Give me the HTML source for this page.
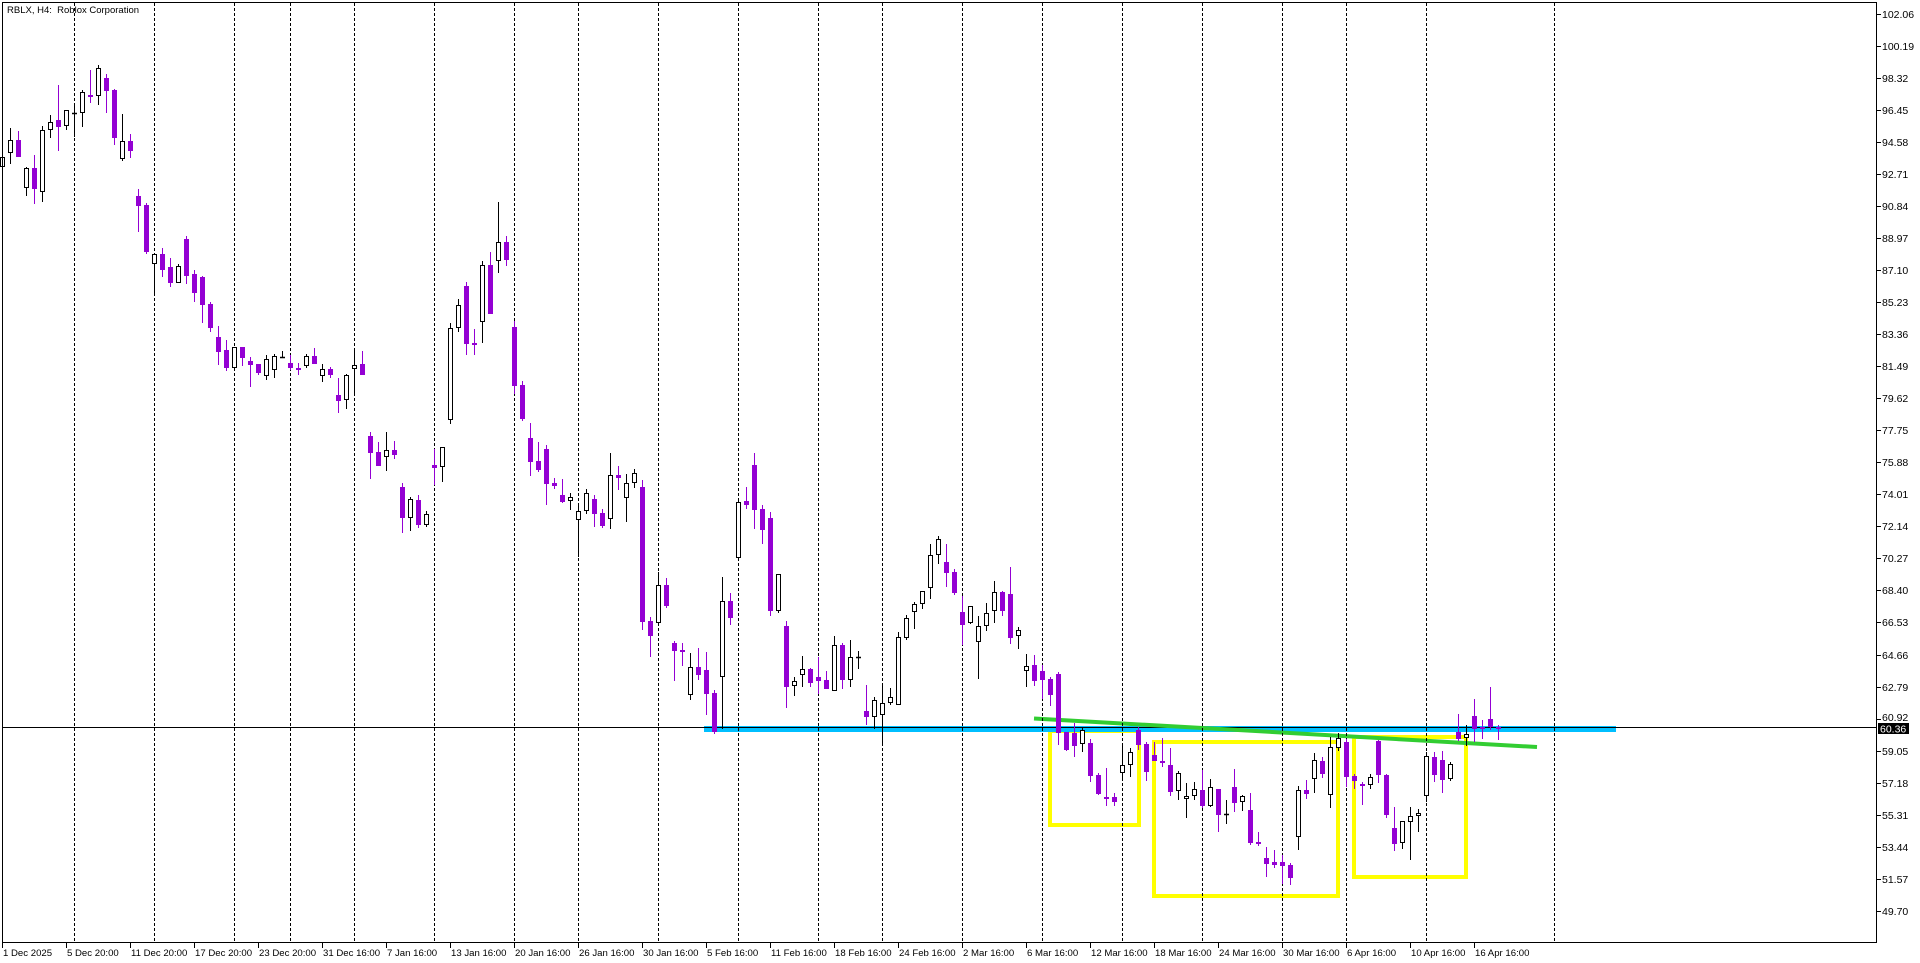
<!DOCTYPE html>
<html><head><meta charset="utf-8"><style>
html,body{margin:0;padding:0;background:#fff;overflow:hidden}
svg{display:block}
text{font-family:"Liberation Sans",Arial,sans-serif;fill:#000}
</style></head><body>
<svg width="1920" height="963" viewBox="0 0 1920 963" xmlns="http://www.w3.org/2000/svg">
<rect width="1920" height="963" fill="#fff"/>
<!-- yellow boxes -->
<g fill="none" stroke="#FFFF00" stroke-width="4">
<rect x="1050" y="731" width="89" height="94"/>
<rect x="1154" y="742" width="184" height="154"/>
<rect x="1354" y="737" width="112" height="140"/>
</g>
<!-- blue horizontal -->
<rect x="704" y="726" width="912" height="6" fill="#00BFFF"/>
<!-- bid line -->
<path d="M2.5 727.5H1877" stroke="#000" stroke-width="1"/>
<!-- green trendline -->
<path d="M1034 718.5L1537 747" stroke="#32CD32" stroke-width="4" fill="none"/>
<!-- period separators -->
<path d="M74.5 3V943M154.5 3V943M234.5 3V943M290.5 3V943M354.5 3V943M434.5 3V943M514.5 3V943M578.5 3V943M658.5 3V943M738.5 3V943M818.5 3V943M882.5 3V943M962.5 3V943M1042.5 3V943M1122.5 3V943M1202.5 3V943M1282.5 3V943M1346.5 3V943M1426.5 3V943M1554.5 3V943" stroke="#000" stroke-width="1" stroke-dasharray="3 2" fill="none"/>
<!-- black wicks -->
<path fill="none" stroke="#000" stroke-width="1" d="M2.5 155V168M10.5 128V164M26.5 167V196M42.5 126V202M50.5 115V138M66.5 110V130M74.5 103V137M82.5 90V127M98.5 65V105M122.5 114V161M154.5 254V293M178.5 264V283M234.5 347V368M266.5 355V380M274.5 354V378M282.5 351V358M306.5 354V368M322.5 364V382M346.5 374V409M354.5 350V395M386.5 432V471M410.5 497V531M426.5 511V527M442.5 447V482M450.5 323V424M458.5 299V332M482.5 261V343M498.5 202V273M570.5 493V510M578.5 505V557M586.5 489V514M610.5 453V529M626.5 474V522M634.5 469V488M658.5 572V624M690.5 653V700M722.5 577V729M738.5 500V558M778.5 574V613M794.5 677V696M802.5 656V687M834.5 636V691M850.5 640V687M858.5 651V669M874.5 697V729M882.5 686V743M890.5 688V705M898.5 632V705M906.5 615V640M914.5 602V629M922.5 591V609M930.5 544V599M938.5 536V564M970.5 606V624M978.5 616V679M986.5 603V631M994.5 581V623M1018.5 627V649M1026.5 654V687M1082.5 728V752M1122.5 744V778M1130.5 748V777M1178.5 771V800M1186.5 783V818M1194.5 782V800M1210.5 779V807M1226.5 800V824M1242.5 795V811M1298.5 786V850M1314.5 753V793M1330.5 737V808M1338.5 733V751M1370.5 774V789M1402.5 821V849M1410.5 807V860M1418.5 809V832M1426.5 752V802M1450.5 762V781M1466.5 725V746"/>
<!-- purple wicks -->
<path fill="none" stroke="#9400D3" stroke-width="1" d="M18.5 131V157M34.5 155V204M58.5 85V151M90.5 70V103M106.5 74V113M114.5 89V145M130.5 134V158M138.5 189V232M146.5 203V254M162.5 248V277M170.5 258V287M186.5 236V284M194.5 270V302M202.5 276V323M210.5 302V332M218.5 326V365M226.5 340V371M242.5 347V366M250.5 357V387M258.5 364V375M290.5 355V370M298.5 363V375M314.5 348V364M330.5 367V378M338.5 378V413M362.5 351V375M370.5 432V479M378.5 442V466M394.5 441V459M402.5 483V533M418.5 495V528M434.5 449V485M466.5 282V355M474.5 329V355M490.5 252V314M506.5 236V266M514.5 321V394M522.5 381V421M530.5 423V476M538.5 442V472M546.5 445V505M554.5 478V489M562.5 479V503M594.5 495V527M602.5 509V528M618.5 466V490M642.5 480V630M650.5 617V657M666.5 578V608M674.5 641V681M682.5 643V666M698.5 648V680M706.5 652V715M714.5 690V734M730.5 593V625M746.5 487V509M754.5 453V529M762.5 505V544M770.5 512V616M786.5 621V708M810.5 668V687M818.5 657V694M826.5 671V689M842.5 643V689M866.5 685V725M946.5 544V587M954.5 569V595M962.5 596V645M1002.5 591V616M1010.5 567V644M1034.5 655V686M1042.5 665V699M1050.5 677V706M1058.5 672V745M1066.5 732V751M1074.5 723V757M1090.5 739V782M1098.5 773V795M1106.5 768V806M1114.5 793V806M1138.5 727V750M1146.5 742V781M1154.5 742V761M1162.5 738V767M1170.5 748V796M1202.5 770V808M1218.5 789V832M1234.5 769V812M1250.5 793V845M1258.5 832V846M1266.5 847V877M1274.5 850V868M1282.5 855V884M1290.5 863V885M1306.5 780V799M1322.5 757V778M1346.5 739V787M1354.5 774V789M1362.5 782V805M1378.5 740V783M1386.5 774V818M1394.5 807V851M1434.5 752V782M1442.5 751V793M1458.5 714V741M1474.5 699V742M1482.5 720V739M1490.5 687V730M1498.5 725V740"/>
<!-- purple bodies -->
<path fill="#9400D3" d="M16 140h5V157h-5zM32 168h5V189h-5zM56 120h5V127h-5zM88 95h5V97h-5zM104 78h5V91h-5zM112 90h5V138h-5zM128 141h5V151h-5zM136 196h5V206h-5zM144 205h5V252h-5zM160 254h5V270h-5zM168 267h5V283h-5zM184 239h5V276h-5zM192 274h5V293h-5zM200 277h5V305h-5zM208 304h5V328h-5zM216 337h5V352h-5zM224 350h5V368h-5zM240 347h5V358h-5zM248 361h5V365h-5zM256 364h5V373h-5zM288 363h5V368h-5zM296 368h5V370h-5zM312 356h5V364h-5zM328 369h5V375h-5zM336 395h5V401h-5zM360 364h5V375h-5zM368 436h5V453h-5zM376 452h5V466h-5zM392 450h5V455h-5zM400 487h5V518h-5zM416 500h5V525h-5zM432 465h5V468h-5zM464 286h5V344h-5zM472 343h5V345h-5zM488 265h5V314h-5zM504 242h5V260h-5zM512 327h5V386h-5zM520 385h5V419h-5zM528 438h5V462h-5zM536 461h5V470h-5zM544 449h5V484h-5zM552 483h5V486h-5zM560 495h5V502h-5zM592 499h5V514h-5zM600 513h5V526h-5zM616 475h5V478h-5zM640 487h5V622h-5zM648 621h5V636h-5zM664 585h5V606h-5zM672 643h5V651h-5zM680 650h5V652h-5zM696 667h5V675h-5zM704 670h5V694h-5zM712 693h5V732h-5zM728 601h5V618h-5zM744 501h5V505h-5zM752 465h5V510h-5zM760 509h5V530h-5zM768 518h5V611h-5zM784 626h5V687h-5zM808 669h5V683h-5zM816 677h5V681h-5zM824 680h5V689h-5zM840 645h5V680h-5zM864 711h5V717h-5zM944 562h5V573h-5zM952 572h5V593h-5zM960 612h5V625h-5zM1000 592h5V611h-5zM1008 594h5V638h-5zM1032 665h5V681h-5zM1040 671h5V680h-5zM1048 679h5V695h-5zM1056 674h5V733h-5zM1064 732h5V750h-5zM1072 733h5V746h-5zM1088 743h5V776h-5zM1096 775h5V794h-5zM1104 797h5V799h-5zM1112 797h5V802h-5zM1136 730h5V745h-5zM1144 744h5V772h-5zM1152 755h5V761h-5zM1160 761h5V763h-5zM1168 765h5V792h-5zM1200 790h5V806h-5zM1216 789h5V815h-5zM1232 787h5V803h-5zM1248 810h5V843h-5zM1256 842h5V844h-5zM1264 858h5V864h-5zM1272 862h5V865h-5zM1280 862h5V866h-5zM1288 865h5V878h-5zM1304 790h5V794h-5zM1320 761h5V774h-5zM1344 742h5V777h-5zM1352 776h5V781h-5zM1360 784h5V786h-5zM1376 741h5V775h-5zM1384 775h5V815h-5zM1392 828h5V844h-5zM1432 757h5V775h-5zM1440 760h5V780h-5zM1456 732h5V739h-5zM1472 716h5V729h-5zM1480 727h5V729h-5zM1488 719h5V727h-5zM1496 727h5V729h-5z"/>
<!-- bull bodies -->
<path fill="#fff" stroke="#000" stroke-width="1" d="M0.5 157.5h4V166.5h-4zM8.5 140.5h4V152.5h-4zM24.5 168.5h4V187.5h-4zM40.5 130.5h4V191.5h-4zM48.5 122.5h4V129.5h-4zM64.5 110.5h4V125.5h-4zM80.5 92.5h4V112.5h-4zM96.5 68.5h4V95.5h-4zM120.5 141.5h4V158.5h-4zM152.5 254.5h4V263.5h-4zM176.5 266.5h4V282.5h-4zM232.5 347.5h4V367.5h-4zM264.5 359.5h4V375.5h-4zM272.5 356.5h4V369.5h-4zM304.5 356.5h4V365.5h-4zM320.5 369.5h4V375.5h-4zM344.5 375.5h4V399.5h-4zM352.5 365.5h4V368.5h-4zM384.5 450.5h4V456.5h-4zM408.5 499.5h4V517.5h-4zM424.5 514.5h4V524.5h-4zM440.5 447.5h4V466.5h-4zM448.5 328.5h4V419.5h-4zM456.5 305.5h4V327.5h-4zM480.5 265.5h4V321.5h-4zM496.5 242.5h4V260.5h-4zM568.5 497.5h4V500.5h-4zM576.5 511.5h4V519.5h-4zM584.5 493.5h4V510.5h-4zM608.5 475.5h4V518.5h-4zM624.5 483.5h4V497.5h-4zM632.5 473.5h4V482.5h-4zM656.5 585.5h4V622.5h-4zM688.5 667.5h4V694.5h-4zM720.5 601.5h4V676.5h-4zM736.5 502.5h4V557.5h-4zM776.5 574.5h4V610.5h-4zM792.5 681.5h4V685.5h-4zM800.5 669.5h4V674.5h-4zM832.5 645.5h4V690.5h-4zM848.5 657.5h4V679.5h-4zM872.5 700.5h4V716.5h-4zM880.5 703.5h4V714.5h-4zM888.5 697.5h4V702.5h-4zM896.5 637.5h4V704.5h-4zM904.5 618.5h4V637.5h-4zM912.5 604.5h4V611.5h-4zM920.5 591.5h4V603.5h-4zM928.5 555.5h4V587.5h-4zM936.5 539.5h4V554.5h-4zM968.5 606.5h4V622.5h-4zM976.5 626.5h4V641.5h-4zM984.5 613.5h4V625.5h-4zM992.5 592.5h4V610.5h-4zM1016.5 630.5h4V635.5h-4zM1024.5 666.5h4V670.5h-4zM1080.5 730.5h4V743.5h-4zM1120.5 765.5h4V772.5h-4zM1128.5 752.5h4V764.5h-4zM1176.5 773.5h4V790.5h-4zM1184.5 796.5h4V798.5h-4zM1192.5 789.5h4V795.5h-4zM1208.5 787.5h4V805.5h-4zM1240.5 796.5h4V801.5h-4zM1296.5 790.5h4V836.5h-4zM1312.5 760.5h4V778.5h-4zM1328.5 747.5h4V794.5h-4zM1336.5 738.5h4V747.5h-4zM1368.5 777.5h4V784.5h-4zM1400.5 821.5h4V842.5h-4zM1408.5 816.5h4V821.5h-4zM1416.5 813.5h4V815.5h-4zM1424.5 756.5h4V795.5h-4zM1448.5 764.5h4V778.5h-4zM1464.5 734.5h4V737.5h-4z"/>
<!-- doji -->
<path fill="none" stroke="#000" stroke-width="1.5" d="M72 113.5h5M280 357.5h5M856 657.5h5M1224 814.5h5"/>
<!-- frame -->
<rect x="2.5" y="2.5" width="1874" height="940" fill="none" stroke="#000" stroke-width="1"/>
<!-- price ticks -->
<path fill="none" stroke="#000" stroke-width="1" d="M1877 14.5h4M1877 46.5h4M1877 78.5h4M1877 110.5h4M1877 142.5h4M1877 174.5h4M1877 206.5h4M1877 238.5h4M1877 270.5h4M1877 302.5h4M1877 334.5h4M1877 366.5h4M1877 398.5h4M1877 430.5h4M1877 462.5h4M1877 494.5h4M1877 526.5h4M1877 558.5h4M1877 590.5h4M1877 622.5h4M1877 655.5h4M1877 687.5h4M1877 719.5h4M1877 751.5h4M1877 783.5h4M1877 815.5h4M1877 847.5h4M1877 879.5h4M1877 911.5h4"/>
<g font-size="10.5">
<text x="1882" y="18">102.06</text>
<text x="1882" y="50">100.19</text>
<text x="1882" y="82">98.32</text>
<text x="1882" y="114">96.45</text>
<text x="1882" y="146">94.58</text>
<text x="1882" y="178">92.71</text>
<text x="1882" y="210">90.84</text>
<text x="1882" y="242">88.97</text>
<text x="1882" y="274">87.10</text>
<text x="1882" y="306">85.23</text>
<text x="1882" y="338">83.36</text>
<text x="1882" y="370">81.49</text>
<text x="1882" y="402">79.62</text>
<text x="1882" y="434">77.75</text>
<text x="1882" y="466">75.88</text>
<text x="1882" y="498">74.01</text>
<text x="1882" y="530">72.14</text>
<text x="1882" y="562">70.27</text>
<text x="1882" y="594">68.40</text>
<text x="1882" y="626">66.53</text>
<text x="1882" y="659">64.66</text>
<text x="1882" y="691">62.79</text>
<text x="1882" y="721">60.92</text>
<text x="1882" y="755">59.05</text>
<text x="1882" y="787">57.18</text>
<text x="1882" y="819">55.31</text>
<text x="1882" y="851">53.44</text>
<text x="1882" y="883">51.57</text>
<text x="1882" y="915">49.70</text>
</g>
<rect x="1878" y="723" width="31" height="11" fill="#000"/>
<text x="1880" y="732.5" font-size="10.5" style="fill:#fff">60.36</text>
<!-- time ticks -->
<path fill="none" stroke="#000" stroke-width="1" d="M2.5 943V948M66.5 943V948M130.5 943V948M194.5 943V948M258.5 943V948M322.5 943V948M386.5 943V948M450.5 943V948M514.5 943V948M578.5 943V948M642.5 943V948M706.5 943V948M770.5 943V948M834.5 943V948M898.5 943V948M962.5 943V948M1026.5 943V948M1090.5 943V948M1154.5 943V948M1218.5 943V948M1282.5 943V948M1346.5 943V948M1410.5 943V948M1474.5 943V948"/>
<g font-size="9.6">
<text x="3" y="956">1 Dec 2025</text>
<text x="67" y="956">5 Dec 20:00</text>
<text x="131" y="956">11 Dec 20:00</text>
<text x="195" y="956">17 Dec 20:00</text>
<text x="259" y="956">23 Dec 20:00</text>
<text x="323" y="956">31 Dec 16:00</text>
<text x="387" y="956">7 Jan 16:00</text>
<text x="451" y="956">13 Jan 16:00</text>
<text x="515" y="956">20 Jan 16:00</text>
<text x="579" y="956">26 Jan 16:00</text>
<text x="643" y="956">30 Jan 16:00</text>
<text x="707" y="956">5 Feb 16:00</text>
<text x="771" y="956">11 Feb 16:00</text>
<text x="835" y="956">18 Feb 16:00</text>
<text x="899" y="956">24 Feb 16:00</text>
<text x="963" y="956">2 Mar 16:00</text>
<text x="1027" y="956">6 Mar 16:00</text>
<text x="1091" y="956">12 Mar 16:00</text>
<text x="1155" y="956">18 Mar 16:00</text>
<text x="1219" y="956">24 Mar 16:00</text>
<text x="1283" y="956">30 Mar 16:00</text>
<text x="1347" y="956">6 Apr 16:00</text>
<text x="1411" y="956">10 Apr 16:00</text>
<text x="1475" y="956">16 Apr 16:00</text>
</g>
<text x="7" y="13" font-size="9.5" style="white-space:pre">RBLX, H4:  Roblox Corporation</text>
</svg>
</body></html>
